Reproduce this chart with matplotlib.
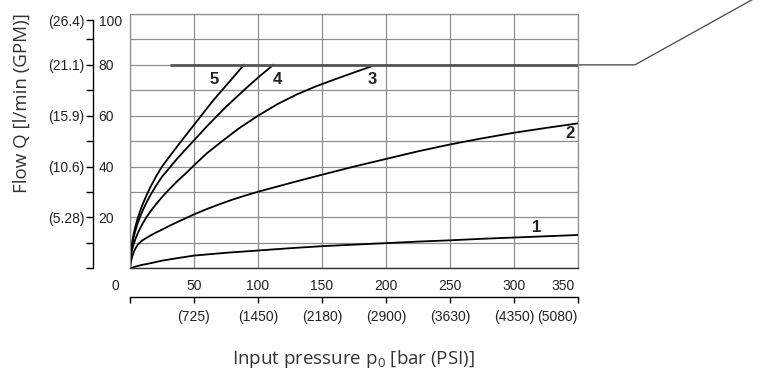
import matplotlib.pyplot as plt
from matplotlib.transforms import ScaledTranslation

# flow curves: input pressure [bar] -> flow [l/min]
p1 = [0, 5, 10, 16, 25, 37, 50, 75, 100, 125, 150, 175, 200, 225, 250, 275, 300, 325, 350]
q1 = [0, 0.8, 1.4, 2.0, 3.0, 4.0, 5.0, 6.1, 7.0, 7.9, 8.7, 9.3, 9.9, 10.5, 11.0, 11.6, 12.1, 12.6, 13.1]

p2 = [0, 0.5, 1, 2, 3, 4.5, 6, 8, 10, 13, 16, 20, 25, 30, 37, 44, 50, 60, 70, 80, 90, 100,
      125, 150, 175, 200, 225, 250, 275, 300, 325, 350]
q2 = [0, 2, 3.2, 5, 6.5, 8, 9.2, 10.3, 11.1, 12, 12.9, 14, 15.2, 16.5, 18.2, 19.8, 21.2, 23.3,
      25.2, 27, 28.6, 30.1, 33.5, 36.8, 40, 43, 46, 48.7, 51.1, 53.3, 55.2, 57]

p3 = [0, 0.5, 1, 2, 3, 4.5, 6, 8, 10, 13, 16, 20, 25, 30, 37, 45, 50, 60, 72, 85, 100,
      115, 130, 145, 160, 175, 188]
q3 = [0, 4, 5.6, 7.9, 9.7, 11.9, 13.7, 15.8, 17.7, 20.2, 22.4, 25, 28, 30.7, 34.3, 38, 40.5,
      45.2, 50, 55, 60, 64.5, 68.3, 71.5, 74.3, 77, 79.3]

p4 = [0, 0.5, 1, 2, 3, 4.5, 6, 8, 10, 13, 16, 20, 25, 30, 37, 45, 50, 60, 75, 90, 100, 112]
q4 = [0, 5.1, 7.2, 10.2, 12.5, 15.3, 17.6, 20.4, 22.8, 26, 28.8, 32.2, 36, 39, 43.2, 47.6, 50.3,
      55.8, 63.5, 70.5, 75, 80]

p5 = [0, 0.5, 1, 2, 3, 4.5, 6, 8, 10, 13, 16, 20, 25, 30, 37, 45, 55, 65, 77, 89]
q5 = [0, 5.7, 8, 11.3, 13.9, 17, 19.6, 22.6, 25.3, 28.8, 32, 35.8, 40, 43.4, 48, 53.2, 59.6,
      66, 73, 80]

curves = [(p1, q1), (p2, q2), (p3, q3), (p4, q4), (p5, q5)]
curve_names = ['1', '2', '3', '4', '5']
name_x = [318, 344, 189, 115, 66]
name_y = [15.9, 53, 74.4, 74.4, 74.4]

# max flow line + leader going off to the top right
q_max = 80
q_max_start = 31
leader_x = [350, 394.5, 486]
leader_y = [80, 80, 105.6]

# axis scales
bar_ticks = [0, 50, 100, 150, 200, 250, 300, 350]
bar_labels = ['0', '50', '100', '150', '200', '250', '300', '350']
psi_labels = ['', '(725)', '(1450)', '(2180)', '(2900)', '(3630)', '(4350)', '(5080)']
# the printed l/min scale ends a little short of the grid top
lpm_ticks = [0, 10, 20, 30, 40, 50, 60, 70, 80, 90, 97.6]
lpm_labels = ['', '', '20', '', '40', '', '60', '', '80', '', '100']
gpm_ticks = [20, 40, 60, 80, 97.6]
gpm_labels = ['(5.28)', '(10.6)', '(15.9)', '(21.1)', '(26.4)']

narrow = ['Liberation Sans Narrow', 'Liberation Sans', 'DejaVu Sans']
plt.rcParams['mathtext.fontset'] = 'custom'
plt.rcParams['mathtext.rm'] = 'Open Sans'
plt.rcParams['mathtext.it'] = 'Open Sans'

W_PX, H_PX = 772, 374
fig = plt.figure(figsize=(W_PX / 100, H_PX / 100), dpi=100)
L, R, T, B = 130, 578, 14, 268.3
pos = [L / W_PX, 1 - B / H_PX, (R - L) / W_PX, (B - T) / H_PX]
ax = fig.add_axes(pos)
ax.set_xlim(0, 350)
ax.set_ylim(0, 100)

grid_c = '#8f8f8f'
tick_fs = 10
ax.set_yticks(range(0, 101, 10))
ax.set_xticks(bar_ticks)
ax.set_xticklabels(bar_labels, fontfamily=narrow, fontsize=tick_fs, color='#222222')
ax.tick_params(axis='both', length=0)
ax.tick_params(axis='x', pad=8)
ax.tick_params(axis='y', labelleft=False)
ax.grid(True, color=grid_c, lw=0.9)
for s in ['top', 'right', 'left']:
    ax.spines[s].set_color(grid_c)
    ax.spines[s].set_linewidth(0.9)
ax.spines['bottom'].set_color('#333333')
ax.spines['bottom'].set_linewidth(1.0)

# shift the first/last bar labels to the left like in the original
xl = ax.get_xticklabels()
for lbl in (xl[0], xl[-1]):
    lbl.set_transform(lbl.get_transform() + ScaledTranslation(-15 / 100, 0, fig.dpi_scale_trans))

for (p, q) in curves:
    ax.plot(p, q, color='black', lw=1.3, solid_joinstyle='round')

for n, x, y in zip(curve_names, name_x, name_y):
    ax.text(x, y, n, ha='center', va='center', fontfamily=narrow,
            fontweight='bold', fontsize=12, color='#222222')

ax.plot([q_max_start, 350], [q_max, q_max], color='#555555', lw=2.0, solid_capstyle='butt')
ax.plot(leader_x, leader_y, color='#555555', lw=1.0, clip_on=False)

# left scale (l/min inside, GPM outside)
ay = fig.add_axes([93 / W_PX, pos[1], 0.0001, pos[3]])
ay.set_ylim(0, 100)
ay.set_xticks([])
for s in ['top', 'right', 'bottom']:
    ay.spines[s].set_visible(False)
ay.spines['left'].set_linewidth(1.0)
ay.spines['left'].set_bounds(0, lpm_ticks[-1])
ay.set_yticks(lpm_ticks)
ay.set_yticklabels(lpm_labels, fontfamily=narrow, fontsize=tick_fs, color='#222222')
ay.tick_params(axis='y', direction='out', length=5, width=1.0,
               left=True, right=False, labelleft=False, labelright=True, pad=-1)

ag = fig.add_axes([93 / W_PX, pos[1], 0.0001, pos[3]])
ag.set_ylim(0, 100)
ag.set_xticks([])
for s in ag.spines.values():
    s.set_visible(False)
ag.patch.set_visible(False)
ag.set_yticks(gpm_ticks)
ag.set_yticklabels(gpm_labels, fontfamily=narrow, fontsize=tick_fs, color='#222222')
ag.tick_params(axis='y', length=0, pad=6)

# bottom PSI scale
ab = fig.add_axes([pos[0], 1 - 297 / H_PX, pos[2], 0.0001])
ab.set_xlim(0, 350)
ab.set_yticks([])
for s in ['top', 'right', 'left']:
    ab.spines[s].set_visible(False)
ab.spines['bottom'].set_linewidth(1.0)
ab.set_xticks(bar_ticks)
ab.set_xticklabels(psi_labels, fontfamily=narrow, fontsize=tick_fs, color='#222222')
ab.tick_params(axis='x', direction='out', length=4, width=1.0, pad=5)
ab.get_xticklabels()[-1].set_horizontalalignment('right')

fig.text(22 / W_PX, 1 - 103 / H_PX, 'Flow Q [l/min (GPM)]', rotation=90,
         ha='center', va='center', fontfamily='Open Sans', fontsize=13.5, color='#333333')
fig.text(353 / W_PX, 1 - 359 / H_PX, 'Input pressure p$_\\mathrm{0}$ [bar (PSI)]',
         ha='center', va='center', fontfamily='Open Sans', fontsize=13.5, color='#333333')

fig.savefig('out.png', dpi=100)
